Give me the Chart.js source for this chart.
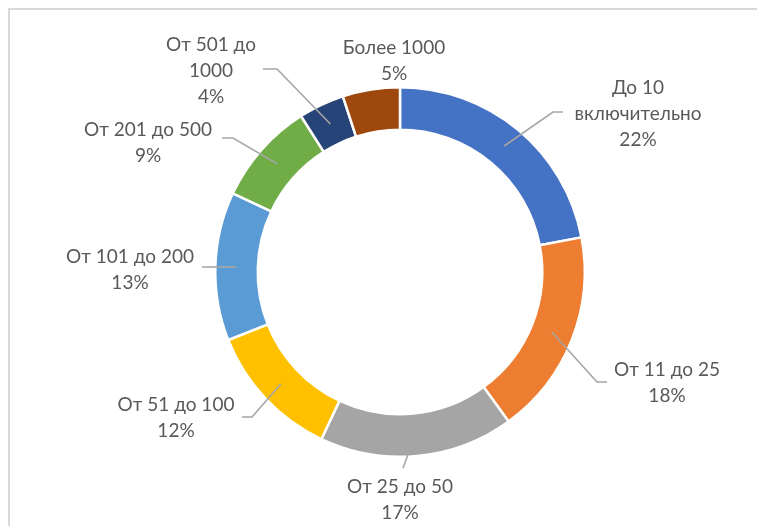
<!DOCTYPE html>
<html lang="ru">
<head>
<meta charset="utf-8">
<script src="https://cdn.jsdelivr.net/npm/chart.js@4.4.1/dist/chart.umd.min.js"></script>
<style>
  html, body { margin: 0; padding: 0; background: #ffffff; }
  #wrap { position: relative; width: 757px; height: 526px; }
  canvas { display: block; }
</style>
</head>
<body>
<div id="wrap"><canvas id="chart" width="757" height="526"></canvas></div>
<script>
// Distribution by group size, percent of total
const categories = [
  'До 10\nвключительно',
  'От 11 до 25',
  'От 25 до 50',
  'От 51 до 100',
  'От 101 до 200',
  'От 201 до 500',
  'От 501 до\n1000',
  'Более 1000'
];
const shares = [22, 18, 17, 12, 13, 9, 4, 5];
const sliceColors = ['#4472C4', '#ED7D31', '#A5A5A5', '#FFC000', '#5B9BD5', '#70AD47', '#264478', '#9E480E'];

// Label placement: text block centre x, first line centre y, leader start and elbow (null = no leader)
const labelX = [638, 667, 400, 176, 130, 148, 211, 394];
const labelY = [88, 370, 487, 405, 257, 130, 45, 48];
const leaderStart = [[563, 112], [607, 382], [403, 468], [242, 417], [202, 267], [222, 138], [263, 69], null];
const leaderElbow = [[553, 112], [597, 382], [403, 468], [252, 417], [202, 267], [233, 138], [277, 69], null];

const FONT = '19px Lato, "Liberation Sans", sans-serif';
const LINE_H = 26;

const calloutPlugin = {
  id: 'callouts',
  beforeDraw(chart) {
    const ctx = chart.ctx;
    ctx.save();
    ctx.fillStyle = '#ffffff';
    ctx.fillRect(0, 0, chart.width, chart.height);
    // outer frame of the chart object
    ctx.strokeStyle = '#d9d9d9';
    ctx.lineWidth = 2;
    ctx.strokeRect(9, 9, chart.width + 20, chart.height + 20);
    ctx.restore();
  },
  afterDatasetsDraw(chart) {
    const ctx = chart.ctx;
    const meta = chart.getDatasetMeta(0);
    ctx.save();
    // leader lines
    ctx.strokeStyle = '#a6a6a6';
    ctx.lineWidth = 1.6;
    meta.data.forEach((arc, i) => {
      if (!leaderStart[i]) return;
      const p = arc.getProps(['x', 'y', 'startAngle', 'endAngle', 'innerRadius', 'outerRadius'], true);
      const mid = (p.startAngle + p.endAngle) / 2;
      const r = (p.innerRadius + p.outerRadius) / 2;
      const ex = p.x + Math.cos(mid) * r;
      const ey = p.y + Math.sin(mid) * r;
      ctx.beginPath();
      ctx.moveTo(leaderStart[i][0], leaderStart[i][1]);
      ctx.lineTo(leaderElbow[i][0], leaderElbow[i][1]);
      ctx.lineTo(ex, ey);
      ctx.stroke();
    });
    // label text
    ctx.fillStyle = '#595959';
    ctx.font = FONT;
    ctx.textAlign = 'center';
    ctx.textBaseline = 'middle';
    categories.forEach((name, i) => {
      const lines = name.split('\n').concat([shares[i] + '%']);
      lines.forEach((t, k) => ctx.fillText(t, labelX[i], labelY[i] + k * LINE_H));
    });
    ctx.restore();
  }
};

new Chart(document.getElementById('chart'), {
  type: 'doughnut',
  data: {
    labels: categories,
    datasets: [{
      data: shares,
      backgroundColor: sliceColors,
      borderColor: '#ffffff',
      borderWidth: 2.5,
      hoverOffset: 0
    }]
  },
  options: {
    responsive: false,
    animation: false,
    cutout: '77%',
    rotation: 0,
    layout: { padding: { top: 86, bottom: 68, left: 214, right: 171 } },
    plugins: {
      legend: { display: false },
      tooltip: { enabled: false },
      title: { display: false }
    }
  },
  plugins: [calloutPlugin]
});
</script>
</body>
</html>
